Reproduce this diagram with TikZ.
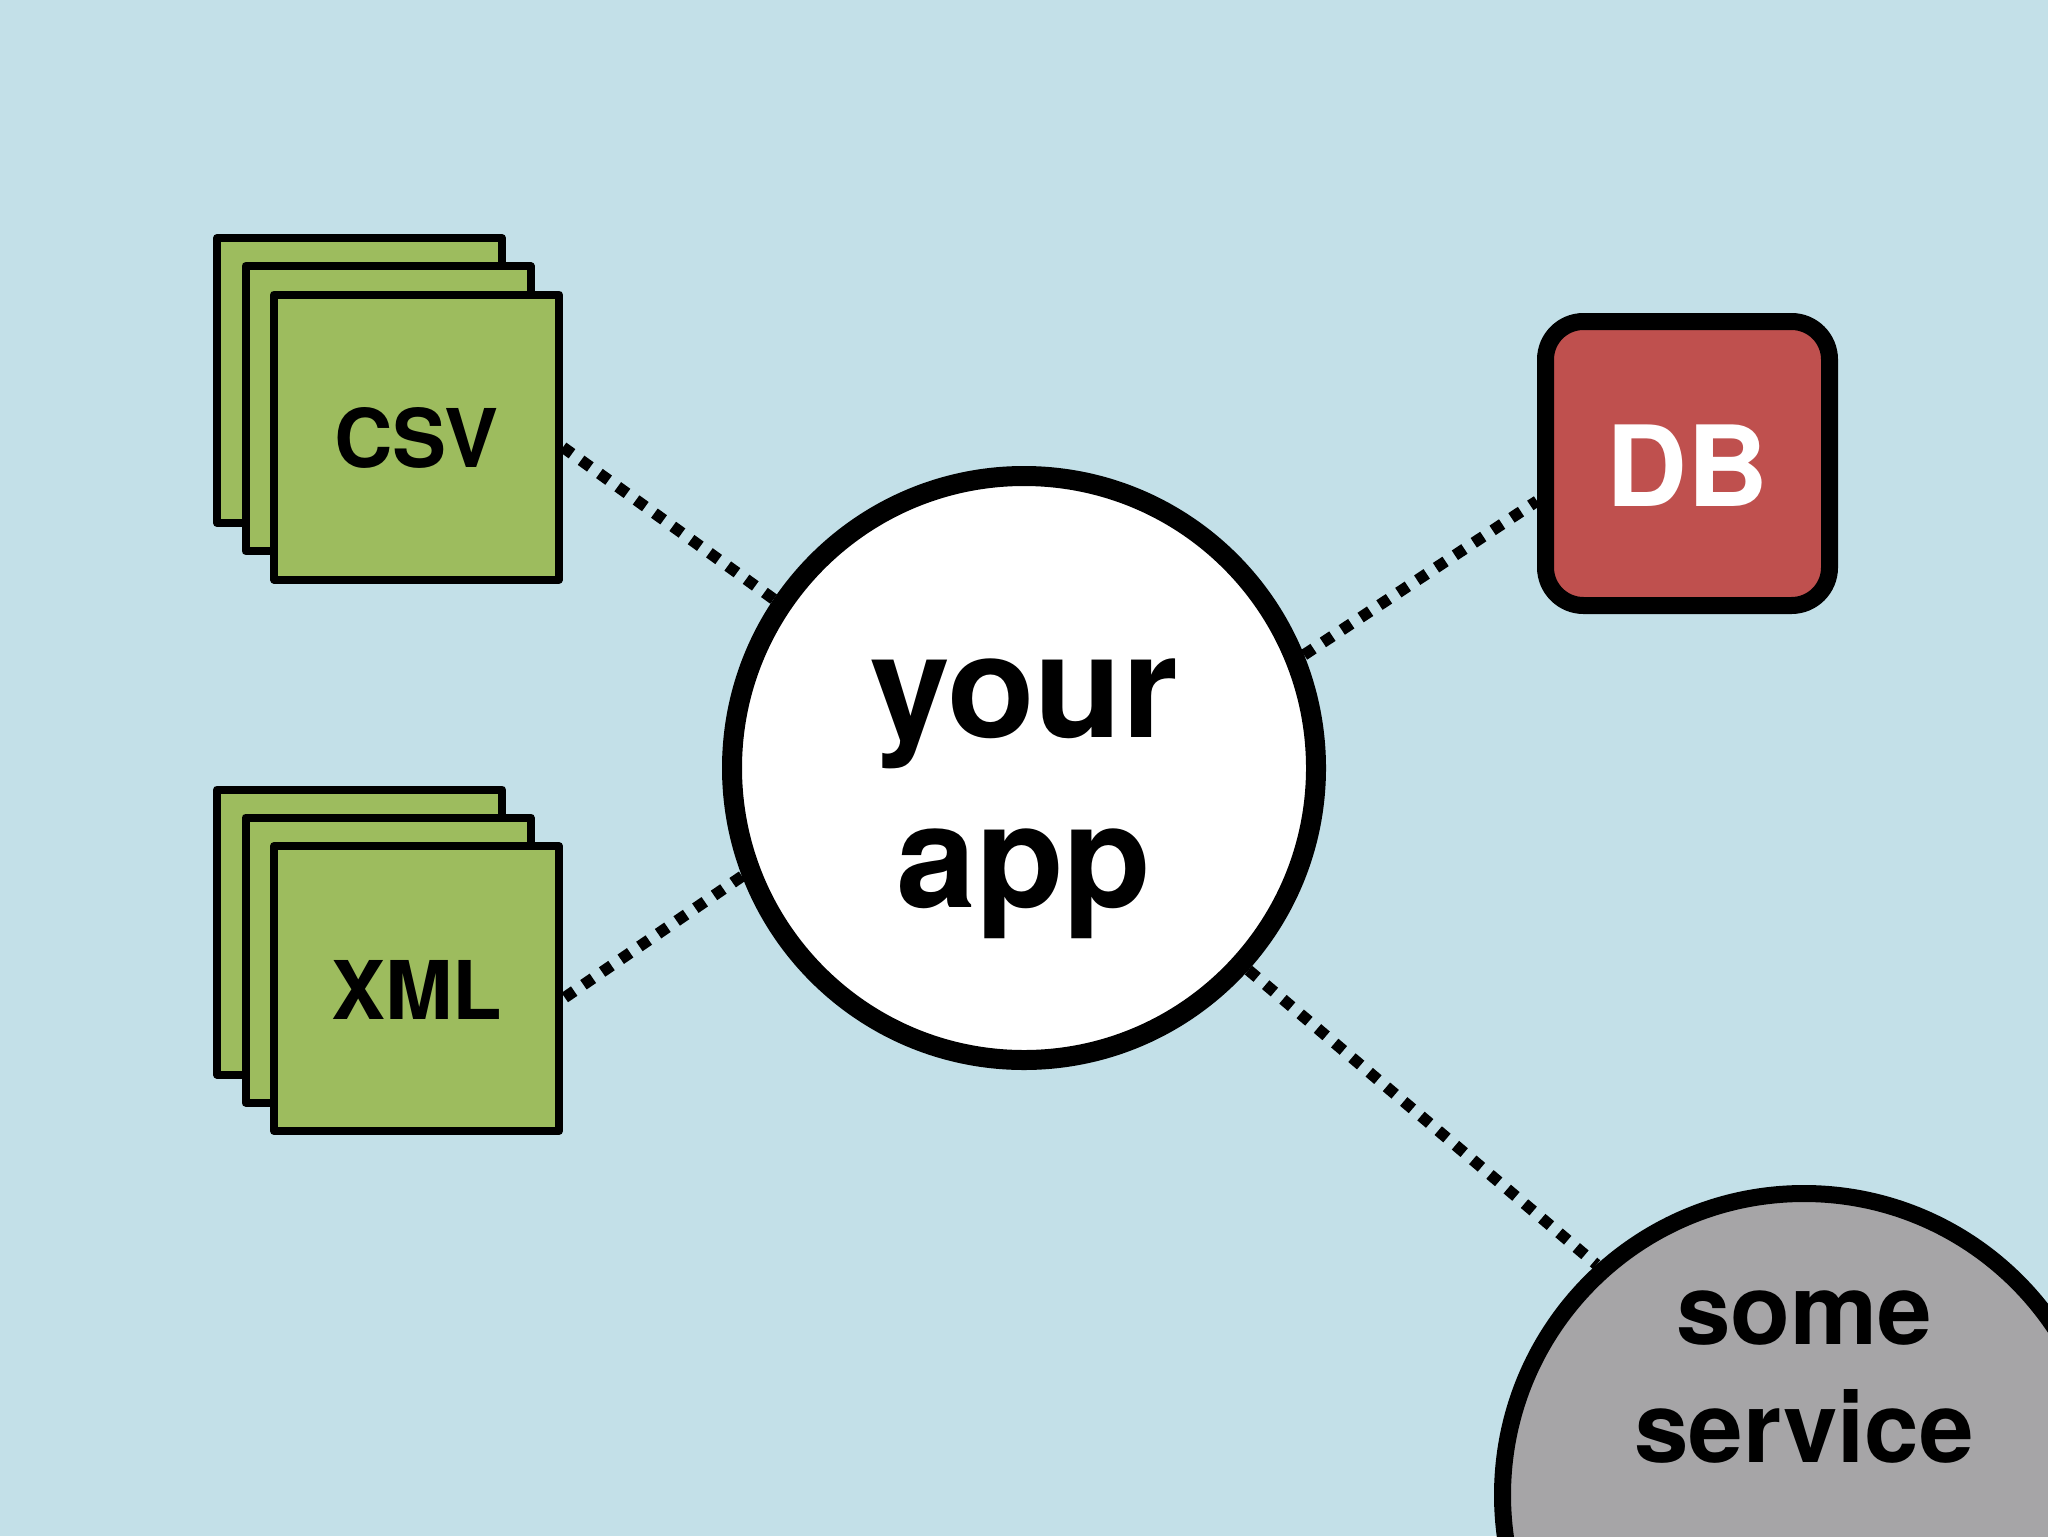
\documentclass[tikz,border=0pt]{standalone}
\usepackage{fontspec}
\setmainfont{TeX Gyre Heros}
\usetikzlibrary{shadows}
\definecolor{bgblue}{HTML}{C3E0E8}
\definecolor{sheetgreen}{HTML}{9DBC5E}
\definecolor{dbred}{HTML}{BF504E}
\definecolor{svcgray}{HTML}{A6A5A7}
\tikzset{
  softshadow/.style={drop shadow={shadow xshift=0pt,shadow yshift=-1.5pt,opacity=.13,fill=black}},
  sheet/.style={draw=black,fill=sheetgreen,line width=4pt,line join=round,minimum size=142.5pt,inner sep=0pt,softshadow,text height=31pt,font=\bfseries\fontsize{40.5}{48}\selectfont},
  appnode/.style={circle,draw=black,fill=white,line width=10pt,minimum size=292pt,inner sep=0pt,softshadow},
  apptext/.style={align=center,inner sep=0pt,font=\bfseries\fontsize{71.7}{85}\selectfont},
  dbnode/.style={draw=black,fill=dbred,line width=8.5pt,rounded corners=19pt,minimum size=142pt,inner sep=0pt,softshadow,text=white,text height=43pt,font=\bfseries\fontsize{56}{66}\selectfont},
  svcnode/.style={circle,draw=black,fill=svcgray,line width=8.5pt,minimum size=301.5pt,inner sep=0pt,softshadow},
  svctext/.style={align=center,inner sep=0pt,font=\bfseries\fontsize{49}{59}\selectfont},
  link/.style={draw=black,line width=5.7pt,dash pattern=on 5.7pt off 5.6pt}
}
\begin{document}
\begin{tikzpicture}[x=0.5pt,y=-0.5pt]
\useasboundingbox (0,0) rectangle (2048,1536);
\clip (0,0) rectangle (2048,1536);
\fill[bgblue] (0,0) rectangle (2048,1536);
% CSV stack
\node[sheet] (csvback) at (359.5,380.5) {};
\node[sheet] (csvmid) at (388,408.5) {};
\node[sheet] (csv) at (416.5,437) {CSV};
% XML stack
\node[sheet] (xmlback) at (359.5,932) {};
\node[sheet] (xmlmid) at (388,960) {};
\node[sheet] (xml) at (416.5,988.5) {XML};
% main circle
\node[appnode] (app) at (1024,768) {};
\node[apptext] (applabel) at (1024,799) {your\\app};
% database
\node[dbnode] (db) at (1687.5,463.5) {DB};
% service
\node[svcnode] (svc) at (1804,1495) {};
\node[svctext] (svclabel) at (1804,1377) {some\\service};
% connectors
\draw[link] (app.146) -- (csv.-4.3);
\draw[link] (app.201) -- (xml.-4.3);
\draw[link] (app.22.8) -- (db.194.6);
\draw[link] (app.-42.4) -- (svc.132.3);
\end{tikzpicture}
\end{document}
